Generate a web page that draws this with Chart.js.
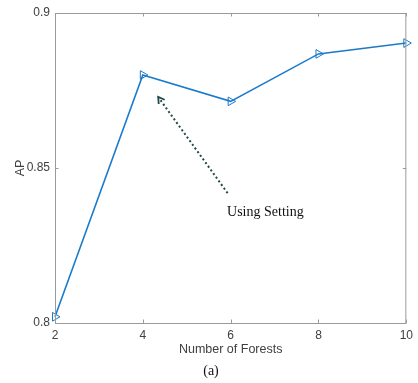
<!DOCTYPE html>
<html>
<head>
<meta charset="utf-8">
<script src="https://cdn.jsdelivr.net/npm/chart.js@4"></script>
<style>
  html, body { margin: 0; padding: 0; background: #fff; }
  #wrap { position: relative; width: 418px; height: 383px; }
</style>
</head>
<body>
<div id="wrap"><canvas id="c" width="418" height="383"></canvas></div>
<script>
// Number of forests vs. AP
const forests = [2, 4, 6, 8, 10];
const apValues = [0.802, 0.880, 0.8715, 0.8868, 0.8903];
const xTicks = [2, 4, 6, 8, 10];
const yTicks = [0.8, 0.85, 0.9];

// Annotation arrow (data coordinates): tail -> head
const arrowTail = { x: 5.93, y: 0.8419 };
const arrowHead = { x: 4.35, y: 0.8729 };
const noteText = 'Using Setting';
const notePos = { x: 6.79, y: 0.8358 };
const caption = '(a)';

const AXIS_COLOR = '#9a9a9a';
const TEXT_COLOR = '#404040';
const SANS = 'Liberation Sans, Arial, sans-serif';
const SERIF = '"Liberation Serif", "Times New Roman", serif';

const framePlugin = {
  id: 'frame',
  afterDraw(chart) {
    const { ctx, chartArea: a, scales } = chart;
    const xs = scales.x, ys = scales.y;
    ctx.save();
    // box around the plot area
    ctx.strokeStyle = AXIS_COLOR;
    ctx.lineWidth = 1;
    ctx.strokeRect(a.left + 0.5, a.top + 0.5, a.right - a.left - 1, a.bottom - a.top);
    // inward tick marks
    const tl = 3.5;
    ctx.beginPath();
    xTicks.forEach(v => {
      const px = Math.round(xs.getPixelForValue(v)) + 0.5;
      ctx.moveTo(px, a.bottom); ctx.lineTo(px, a.bottom - tl);
      ctx.moveTo(px, a.top); ctx.lineTo(px, a.top + tl);
    });
    yTicks.forEach(v => {
      const py = Math.round(ys.getPixelForValue(v)) + 0.5;
      ctx.moveTo(a.left, py); ctx.lineTo(a.left + tl, py);
      ctx.moveTo(a.right, py); ctx.lineTo(a.right - tl, py);
    });
    ctx.stroke();

    // dotted annotation arrow
    const x1 = xs.getPixelForValue(arrowTail.x), y1 = ys.getPixelForValue(arrowTail.y);
    const x2 = xs.getPixelForValue(arrowHead.x), y2 = ys.getPixelForValue(arrowHead.y);
    ctx.strokeStyle = '#1e4a48';
    ctx.lineWidth = 2;
    ctx.setLineDash([2, 2.5]);
    ctx.beginPath();
    ctx.moveTo(x1, y1); ctx.lineTo(x2, y2);
    ctx.stroke();
    ctx.setLineDash([]);
    const ang = Math.atan2(y2 - y1, x2 - x1);
    const hl = 7, spread = 0.55;
    ctx.lineWidth = 1.8;
    ctx.beginPath();
    ctx.moveTo(x2 - hl * Math.cos(ang - spread), y2 - hl * Math.sin(ang - spread));
    ctx.lineTo(x2, y2);
    ctx.lineTo(x2 - hl * Math.cos(ang + spread), y2 - hl * Math.sin(ang + spread));
    ctx.stroke();

    // annotation label
    ctx.fillStyle = '#111';
    ctx.font = '14px ' + SERIF;
    ctx.textAlign = 'center';
    ctx.textBaseline = 'middle';
    ctx.fillText(noteText, xs.getPixelForValue(notePos.x), ys.getPixelForValue(notePos.y));

    // sub-figure caption
    ctx.fillText(caption, 211, 371);
    ctx.restore();
  }
};

new Chart(document.getElementById('c'), {
  type: 'line',
  data: {
    datasets: [{
      data: forests.map((f, i) => ({ x: f, y: apValues[i] })),
      borderColor: '#1a7acb',
      borderWidth: 1.6,
      backgroundColor: 'rgba(0,0,0,0)',
      pointStyle: 'triangle',
      rotation: 90,
      pointRadius: 5,
      pointBorderWidth: 1,
      pointBorderColor: '#1a7acb',
      pointBackgroundColor: 'rgba(255,255,255,0)',
      tension: 0,
      clip: false
    }]
  },
  options: {
    responsive: false,
    animation: false,
    layout: { padding: { top: 13, right: 9, left: 13, bottom: 26 } },
    plugins: { legend: { display: false }, tooltip: { enabled: false } },
    scales: {
      x: {
        type: 'linear',
        min: 2, max: 10,
        afterBuildTicks: s => { s.ticks = xTicks.map(v => ({ value: v })); },
        afterFit: s => { s.height = 34; },
        grid: { display: false, drawTicks: false },
        border: { display: false },
        ticks: { color: TEXT_COLOR, font: { family: SANS, size: 12 }, padding: 5, maxRotation: 0 },
        title: { display: true, text: 'Number of Forests', color: TEXT_COLOR, font: { family: SANS, size: 12.5 }, padding: { top: 0, bottom: 0 } }
      },
      y: {
        type: 'linear',
        min: 0.8, max: 0.9,
        afterBuildTicks: s => { s.ticks = yTicks.map(v => ({ value: v })); },
        afterFit: s => { s.width = 42; },
        grid: { display: false, drawTicks: false },
        border: { display: false },
        ticks: { color: TEXT_COLOR, font: { family: SANS, size: 12 }, padding: 5, callback: v => String(v) },
        title: { display: true, text: 'AP', color: TEXT_COLOR, font: { family: SANS, size: 12.5 }, padding: { top: 0, bottom: 0 } }
      }
    }
  },
  plugins: [framePlugin]
});
</script>
</body>
</html>
